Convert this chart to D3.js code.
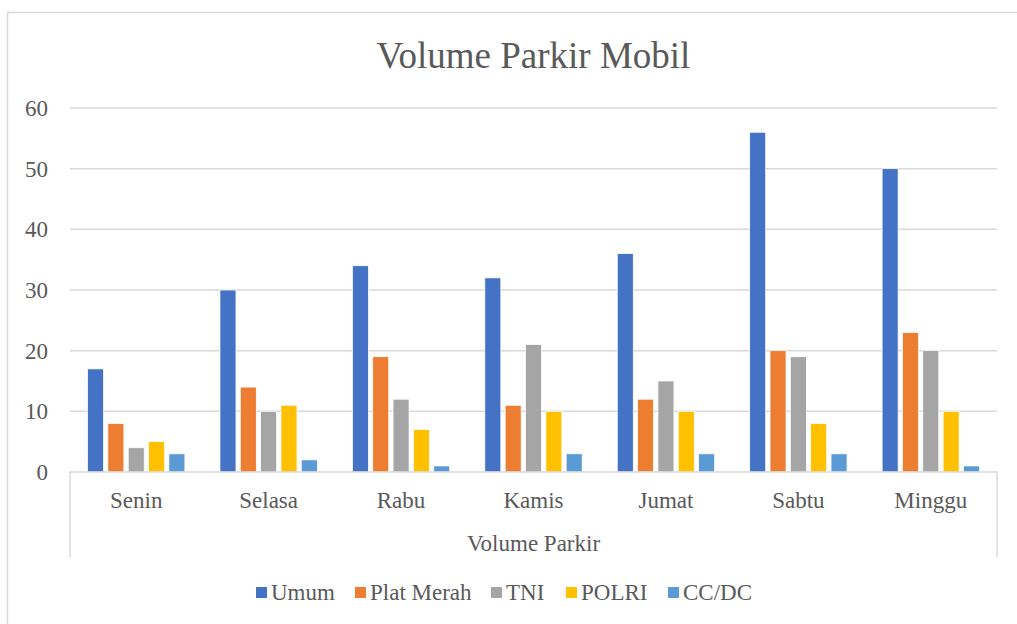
<!DOCTYPE html>
<html>
<head>
<meta charset="utf-8">
<script src="https://cdn.jsdelivr.net/npm/d3@7"></script>
</head>
<body style="margin:0; overflow:hidden">
<svg id="vis" width="1017" height="624" style="display:block"></svg>
<script>
const WIDTH = 1017;
const HEIGHT = 624;

const days = ["Senin", "Selasa", "Rabu", "Kamis", "Jumat", "Sabtu", "Minggu"];
const seriesNames = ["Umum", "Plat Merah", "TNI", "POLRI", "CC/DC"];
const umum = [17, 30, 34, 32, 36, 56, 50];
const platMerah = [8, 14, 19, 11, 12, 20, 23];
const tni = [4, 10, 12, 21, 15, 19, 20];
const polri = [5, 11, 7, 10, 10, 8, 10];
const ccdc = [3, 2, 1, 3, 3, 3, 1];
const yTicks = [0, 10, 20, 30, 40, 50, 60];
const colors = ["#4472C4", "#ED7D31", "#A5A5A5", "#FFC000", "#5B9BD5"];

const seriesValues = [umum, platMerah, tni, polri, ccdc];

const plotLeft = 70, plotRight = 997, plotTop = 108, plotBottom = 472;
const TEXT = "#595959";
const FONT = "'Liberation Serif', Tinos, serif";
// legend swatch positions
const legendX = [256, 355, 491, 566, 668];

const svg = d3.select("#vis");

// chart border
svg.append("rect")
    .attr("x", 7.5).attr("y", 12.5)
    .attr("width", WIDTH + 10).attr("height", HEIGHT + 10)
    .attr("fill", "none").attr("stroke", "#D9D9D9").attr("stroke-width", 1.5);

const y = d3.scaleLinear().domain([0, 60]).range([plotBottom, plotTop]);
const x0 = d3.scaleBand().domain(days).range([plotLeft, plotRight]);
// excel style: gap width 219%, overlap -27%
const bw = x0.bandwidth() / (5 + 4 * 0.27 + 2.19);
const x1 = d3.scaleBand().domain(seriesNames)
    .range([bw * 1.095, x0.bandwidth() - bw * 1.095])
    .paddingInner(0.27 / 1.27);

// gridlines
svg.append("g").selectAll("line")
    .data(yTicks.filter(d => d > 0))
    .join("line")
    .attr("x1", plotLeft).attr("x2", plotRight)
    .attr("y1", d => y(d)).attr("y2", d => y(d))
    .attr("stroke", "#D9D9D9").attr("stroke-width", 1.5);

// bars
const groups = svg.append("g").selectAll("g")
    .data(days)
    .join("g")
    .attr("transform", d => `translate(${x0(d)},0)`);

groups.selectAll("rect")
    .data((d, i) => seriesNames.map((s, j) => ({ s: s, v: seriesValues[j][i], c: colors[j] })))
    .join("rect")
    .attr("x", d => x1(d.s))
    .attr("width", x1.bandwidth())
    .attr("y", d => y(d.v))
    .attr("height", d => y(0) - y(d.v))
    .attr("fill", d => d.c)
    .attr("stroke", "#fff").attr("stroke-width", 0.75);

// axis frame (multi-level category)
svg.append("path")
    .attr("d", `M${plotLeft},557V${plotBottom}H${plotRight}V557`)
    .attr("fill", "none").attr("stroke", "#D9D9D9").attr("stroke-width", 1.5);

svg.selectAll("rect.key")
    .data(seriesNames)
    .join("rect")
    .attr("class", "key")
    .attr("x", (d, i) => legendX[i]).attr("y", 587)
    .attr("width", 11).attr("height", 11)
    .attr("fill", (d, i) => colors[i]);

// all texts
const texts = [];
texts.push({ t: "Volume Parkir Mobil", x: (plotLeft + plotRight) / 2, y: 68, a: "middle", s: 37 });
yTicks.forEach(d => texts.push({ t: String(d), x: 48, y: y(d) + 8, a: "end", s: 23 }));
days.forEach(d => texts.push({ t: d, x: x0(d) + x0.bandwidth() / 2, y: 508, a: "middle", s: 23 }));
texts.push({ t: "Volume Parkir", x: (plotLeft + plotRight) / 2, y: 551, a: "middle", s: 23 });
seriesNames.forEach((d, i) => texts.push({ t: d, x: legendX[i] + 15, y: 600, a: "start", s: 23 }));

svg.append("g").selectAll("text")
    .data(texts)
    .join("text")
    .attr("x", d => d.x).attr("y", d => d.y)
    .attr("text-anchor", d => d.a)
    .attr("font-family", "Liberation Serif")
    .style("font-family", FONT, "important")
    .style("font-size", d => d.s + "px")
    .style("fill", TEXT)
    .text(d => d.t);
</script>
</body>
</html>
